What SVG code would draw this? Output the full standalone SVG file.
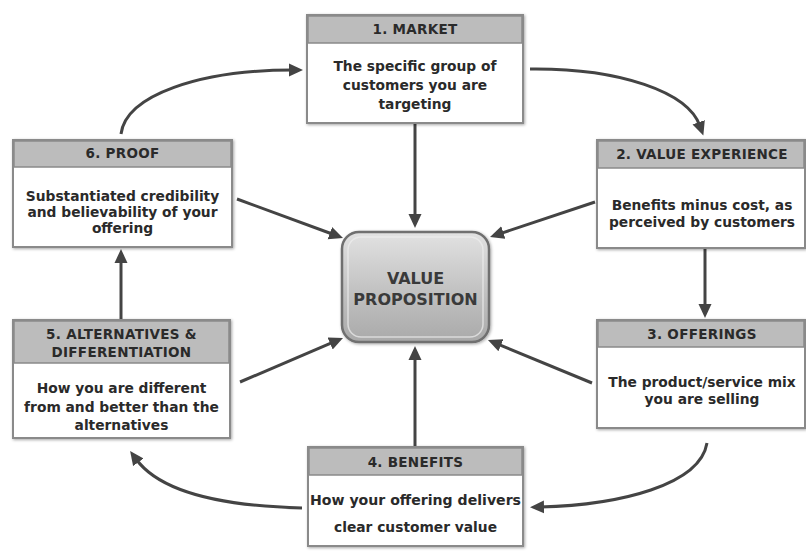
<svg xmlns="http://www.w3.org/2000/svg" width="806" height="554" viewBox="0 0 806 554">
<defs>
<linearGradient id="vpg" x1="0" y1="0" x2="0" y2="1">
<stop offset="0" stop-color="#e2e2e2"/>
<stop offset="0.5" stop-color="#c4c4c4"/>
<stop offset="1" stop-color="#a9a9a9"/>
</linearGradient>
<filter id="sh" x="-10%" y="-10%" width="120%" height="120%">
<feGaussianBlur in="SourceAlpha" stdDeviation="1.5"/>
<feOffset dx="1" dy="1" result="b"/>
<feFlood flood-color="#000" flood-opacity="0.35"/>
<feComposite in2="b" operator="in"/>
<feMerge><feMergeNode/><feMergeNode in="SourceGraphic"/></feMerge>
</filter>
<marker id="ah" markerUnits="userSpaceOnUse" markerWidth="15" markerHeight="14" refX="4" refY="7" orient="auto">
<path d="M0,0.5 L14,7 L0,13.5 z" fill="#444"/>
</marker>
</defs>
<style>
.box{fill:#fff;stroke:#8a8a8a;stroke-width:2}
.hdr{fill:#bcbcbc;stroke:#8a8a8a;stroke-width:1.5}
.ht{font-family:"DejaVu Sans",Verdana,sans-serif;font-weight:bold;font-size:13.5px;letter-spacing:0.3px;fill:#2a2a2a;text-anchor:middle}
.bt{font-family:"DejaVu Sans",Verdana,sans-serif;font-weight:bold;font-size:13.8px;fill:#2a2a2a;text-anchor:middle}
.vt{font-family:"DejaVu Sans",Verdana,sans-serif;font-weight:bold;font-size:16px;fill:#3a3a3a;text-anchor:middle}
.c{fill:none;stroke:#444;stroke-width:3;marker-end:url(#ah)}
</style>
<rect width="806" height="554" fill="#fff"/>

<g id="connectors">
<path class="c" d="M415,124 L415,218"/>
<path class="c" d="M595,202 L499.5,233.8"/>
<path class="c" d="M237,199 L333.6,234.5"/>
<path class="c" d="M240,382 L333.8,341.9"/>
<path class="c" d="M592,383 L497.2,343.8"/>
<path class="c" d="M415,446 L415,356"/>
<path class="c" d="M705,249 L705,308"/>
<path class="c" d="M121,319 L121,259"/>
<path class="c" d="M121,134 C126,95 200,70 293,70"/>
<path class="c" d="M530,69 C620,68 688,92 700,126"/>
<path class="c" d="M302,508 C220,506 160,492 136,459"/>
<path class="c" d="M707,443 C700,485 620,505 540,507"/>
</g>

<g id="vp">
<rect x="342" y="232" width="147" height="110" rx="17" fill="url(#vpg)" stroke="#6f6f6f" stroke-width="2.5" filter="url(#sh)"/>
<rect x="348" y="237" width="135" height="100" rx="13" fill="none" stroke="#eee" stroke-width="1.5" opacity="0.7"/>
<text class="vt" x="415.5" y="284">VALUE</text>
<text class="vt" x="415.5" y="305">PROPOSITION</text>
</g>

<g id="market">
<rect class="box" x="307" y="15" width="216" height="108" filter="url(#sh)"/>
<rect class="hdr" x="308" y="16" width="214" height="27"/>
<text class="ht" x="415" y="34">1. MARKET</text>
<text class="bt" x="415" y="71">The specific group of</text>
<text class="bt" x="415" y="90">customers you are</text>
<text class="bt" x="415" y="109">targeting</text>
</g>

<g id="value-experience">
<rect class="box" x="597" y="140" width="208" height="108" filter="url(#sh)"/>
<rect class="hdr" x="598" y="141" width="206" height="27"/>
<text class="ht" x="702" y="159">2. VALUE EXPERIENCE</text>
<text class="bt" x="702" y="210">Benefits minus cost, as</text>
<text class="bt" x="702" y="227">perceived by customers</text>
</g>

<g id="offerings">
<rect class="box" x="597" y="320" width="208" height="108" filter="url(#sh)"/>
<rect class="hdr" x="598" y="321" width="206" height="26"/>
<text class="ht" x="702" y="339">3. OFFERINGS</text>
<text class="bt" x="702" y="387">The product/service mix</text>
<text class="bt" x="702" y="404">you are selling</text>
</g>

<g id="benefits">
<rect class="box" x="308" y="447" width="215" height="99" filter="url(#sh)"/>
<rect class="hdr" x="309" y="448" width="213" height="27"/>
<text class="ht" x="415.5" y="467">4. BENEFITS</text>
<text class="bt" x="415.5" y="505" textLength="211" lengthAdjust="spacingAndGlyphs">How your offering delivers</text>
<text class="bt" x="415.5" y="532">clear customer value</text>
</g>

<g id="alternatives">
<rect class="box" x="13" y="320" width="217" height="118" filter="url(#sh)"/>
<rect class="hdr" x="14" y="321" width="215" height="42"/>
<text class="ht" x="121.5" y="339">5. ALTERNATIVES &amp;</text>
<text class="ht" x="121.5" y="357">DIFFERENTIATION</text>
<text class="bt" x="121.5" y="393">How you are different</text>
<text class="bt" x="121.5" y="412">from and better than the</text>
<text class="bt" x="121.5" y="430">alternatives</text>
</g>

<g id="proof">
<rect class="box" x="13" y="140" width="219" height="107" filter="url(#sh)"/>
<rect class="hdr" x="14" y="141" width="217" height="26"/>
<text class="ht" x="122.5" y="158">6. PROOF</text>
<text class="bt" x="122.5" y="201">Substantiated credibility</text>
<text class="bt" x="122.5" y="217">and believability of your</text>
<text class="bt" x="122.5" y="233">offering</text>
</g>
</svg>
